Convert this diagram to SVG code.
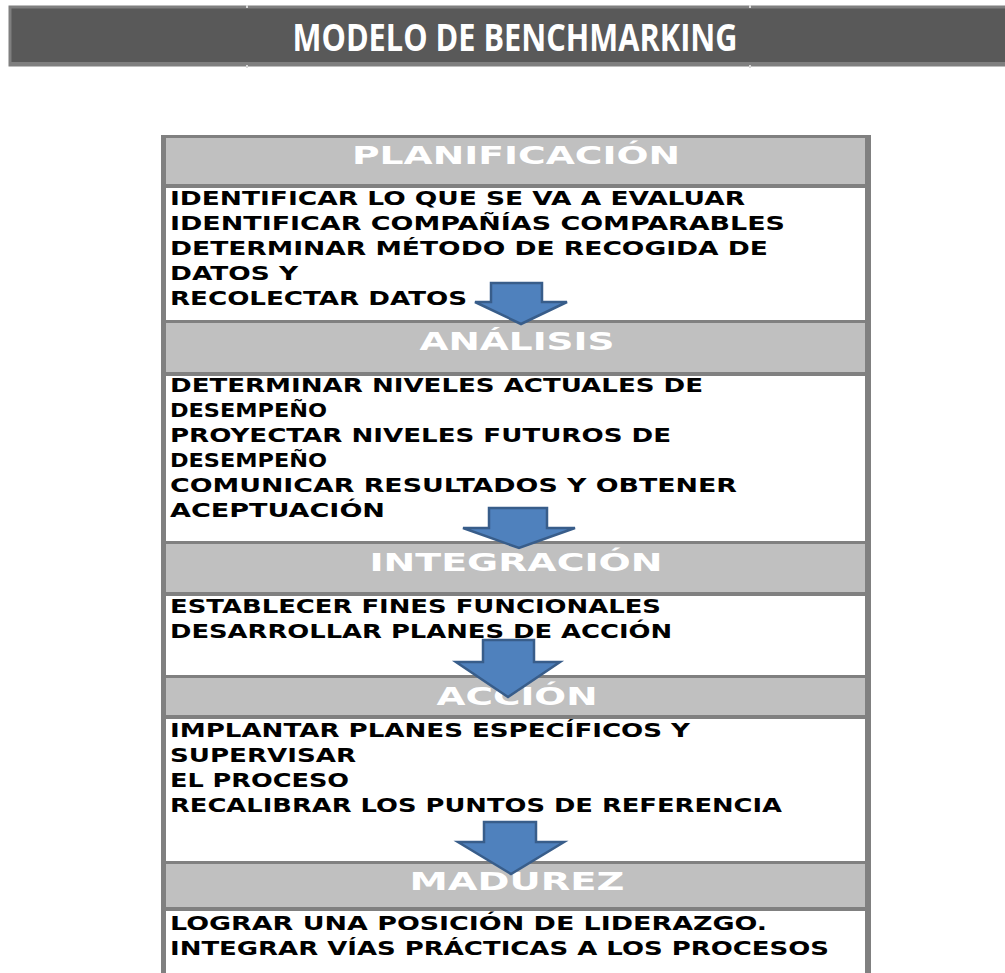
<svg xmlns="http://www.w3.org/2000/svg" width="1005" height="973" viewBox="0 0 1005 973">
<style>
.hdr{fill:#c0c0c0}
.body{fill:#ffffff}
.ht{font-family:"DejaVu Sans",Verdana,sans-serif;font-weight:bold;font-size:25px;fill:#ffffff;text-anchor:middle}
.bt{font-family:"DejaVu Sans",Verdana,sans-serif;font-weight:bold;font-size:20px;fill:#000000}
.arrow{fill:#4f81bd;stroke:#385d8a;stroke-width:2.5;stroke-linejoin:miter}
</style>
<rect width="1005" height="973" fill="#ffffff"/>
<g id="title">
<rect x="10" y="7" width="1000" height="58" fill="#595959" stroke="#7f7f7f" stroke-width="3"/>
<rect x="10" y="62" width="1000" height="4" fill="#7f7f7f"/>
<rect x="246" y="5" width="2" height="3" fill="#d9d9d9"/>
<rect x="749" y="5" width="2" height="3" fill="#d9d9d9"/>
<rect x="246" y="65" width="2" height="3" fill="#d9d9d9"/>
<rect x="749" y="65" width="2" height="3" fill="#d9d9d9"/>
<text x="515" y="51" font-family="'Open Sans',sans-serif" font-weight="bold" font-size="38" fill="#ffffff" text-anchor="middle" textLength="445" lengthAdjust="spacingAndGlyphs">MODELO DE BENCHMARKING</text>
</g>
<rect x="161" y="135" width="710" height="845" fill="#808080"/>
<g id="planificacion">
<rect class="hdr" x="166" y="138" width="699" height="46"/>
<text class="ht" x="516" y="164" textLength="328" lengthAdjust="spacingAndGlyphs">PLANIFICACIÓN</text>
<rect class="body" x="166" y="188" width="699" height="132"/>
<text class="bt" x="170" y="205" textLength="575" lengthAdjust="spacingAndGlyphs">IDENTIFICAR LO QUE SE VA A EVALUAR</text>
<text class="bt" x="170" y="230" textLength="615" lengthAdjust="spacingAndGlyphs">IDENTIFICAR COMPAÑÍAS COMPARABLES</text>
<text class="bt" x="170" y="255" textLength="598" lengthAdjust="spacingAndGlyphs">DETERMINAR MÉTODO DE RECOGIDA DE</text>
<text class="bt" x="170" y="280" textLength="128" lengthAdjust="spacingAndGlyphs">DATOS Y</text>
<text class="bt" x="170" y="305" textLength="297" lengthAdjust="spacingAndGlyphs">RECOLECTAR DATOS</text>
</g>
<g id="analisis">
<rect class="hdr" x="166" y="323" width="699" height="49"/>
<text class="ht" x="517" y="350" textLength="195" lengthAdjust="spacingAndGlyphs">ANÁLISIS</text>
<rect class="body" x="166" y="376" width="699" height="165"/>
<text class="bt" x="170" y="392" textLength="533" lengthAdjust="spacingAndGlyphs">DETERMINAR NIVELES ACTUALES DE</text>
<text class="bt" x="170" y="417" textLength="157" lengthAdjust="spacingAndGlyphs">DESEMPEÑO</text>
<text class="bt" x="170" y="442" textLength="501" lengthAdjust="spacingAndGlyphs">PROYECTAR NIVELES FUTUROS DE</text>
<text class="bt" x="170" y="467" textLength="157" lengthAdjust="spacingAndGlyphs">DESEMPEÑO</text>
<text class="bt" x="170" y="492" textLength="567" lengthAdjust="spacingAndGlyphs">COMUNICAR RESULTADOS Y OBTENER</text>
<text class="bt" x="170" y="517" textLength="215" lengthAdjust="spacingAndGlyphs">ACEPTUACIÓN</text>
</g>
<g id="integracion">
<rect class="hdr" x="166" y="544" width="699" height="48"/>
<text class="ht" x="516" y="571" textLength="293" lengthAdjust="spacingAndGlyphs">INTEGRACIÓN</text>
<rect class="body" x="166" y="596" width="699" height="79"/>
<text class="bt" x="170" y="613" textLength="491" lengthAdjust="spacingAndGlyphs">ESTABLECER FINES FUNCIONALES</text>
<text class="bt" x="170" y="638" textLength="502" lengthAdjust="spacingAndGlyphs">DESARROLLAR PLANES DE ACCIÓN</text>
</g>
<g id="accion">
<rect class="hdr" x="166" y="678" width="699" height="37"/>
<text class="ht" x="517" y="705" textLength="161" lengthAdjust="spacingAndGlyphs">ACCIÓN</text>
<rect class="body" x="166" y="719" width="699" height="142"/>
<text class="bt" x="170" y="737" textLength="520" lengthAdjust="spacingAndGlyphs">IMPLANTAR PLANES ESPECÍFICOS Y</text>
<text class="bt" x="170" y="762" textLength="186" lengthAdjust="spacingAndGlyphs">SUPERVISAR</text>
<text class="bt" x="170" y="787" textLength="179" lengthAdjust="spacingAndGlyphs">EL PROCESO</text>
<text class="bt" x="170" y="812" textLength="612" lengthAdjust="spacingAndGlyphs">RECALIBRAR LOS PUNTOS DE REFERENCIA</text>
</g>
<g id="madurez">
<rect class="hdr" x="166" y="864" width="699" height="43"/>
<text class="ht" x="517" y="890" textLength="215" lengthAdjust="spacingAndGlyphs">MADUREZ</text>
<rect class="body" x="166" y="911" width="699" height="70"/>
<text class="bt" x="170" y="930" textLength="597" lengthAdjust="spacingAndGlyphs">LOGRAR UNA POSICIÓN DE LIDERAZGO.</text>
<text class="bt" x="170" y="955" textLength="659" lengthAdjust="spacingAndGlyphs">INTEGRAR VÍAS PRÁCTICAS A LOS PROCESOS</text>
</g>
<g id="connectors">
<path class="arrow" d="M491,283 H542 V302 H567 L521,324 L475,302 H491 Z"/>
<path class="arrow" d="M489,508 H547 V528 H575 L519,548 L463,528 H489 Z"/>
<path class="arrow" d="M483,640 H534 V662 H560 L508,697 L456,662 H483 Z"/>
<path class="arrow" d="M484,822 H536 V842 H564 L511,874 L458,842 H484 Z"/>
</g>
</svg>
